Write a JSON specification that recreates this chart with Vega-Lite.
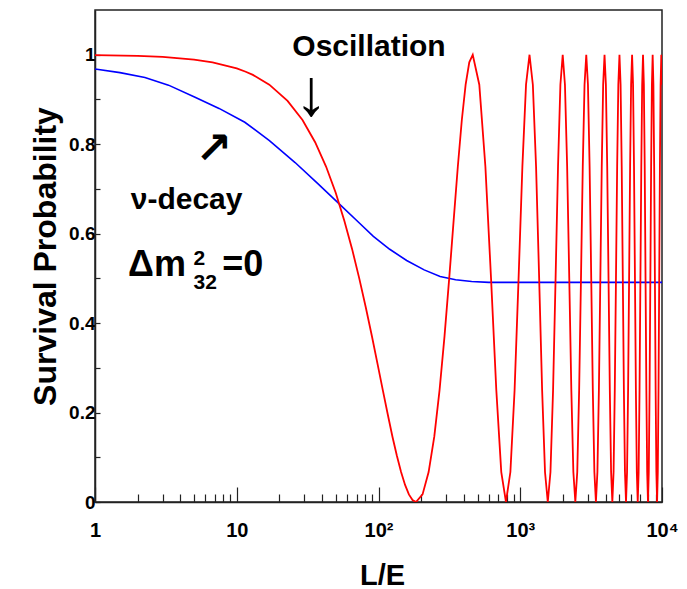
{
  "$schema": "https://vega.github.io/schema/vega-lite/v6.json",
  "autosize": {"type": "none"},
  "padding": {"left": 95, "top": 10, "right": 25, "bottom": 87},
  "width": 567,
  "height": 492,
  "background": "white",
  "config": {
    "font": "Liberation Sans",
    "view": {"stroke": "#222222", "strokeWidth": 1.5}
  },
  "datasets": {
    "osc": [
      {"x": 1, "p": 0.999}, {"x": 2, "p": 0.9973}, {"x": 3, "p": 0.995}, {"x": 5, "p": 0.9891},
      {"x": 6.75, "p": 0.983}, {"x": 10, "p": 0.9694}, {"x": 11.57, "p": 0.9619}, {"x": 13, "p": 0.9549},
      {"x": 16.97, "p": 0.933}, {"x": 22.83, "p": 0.8967}, {"x": 29.1, "p": 0.854}, {"x": 35.73, "p": 0.8044},
      {"x": 42.66, "p": 0.75}, {"x": 49.9, "p": 0.6913}, {"x": 57.4, "p": 0.629}, {"x": 65.16, "p": 0.5653},
      {"x": 73.15, "p": 0.5}, {"x": 81.38, "p": 0.4347}, {"x": 89.8, "p": 0.371}, {"x": 98.44, "p": 0.3087},
      {"x": 107.25, "p": 0.25}, {"x": 116.27, "p": 0.1956}, {"x": 125.44, "p": 0.146}, {"x": 134.79, "p": 0.1033},
      {"x": 144.3, "p": 0.067}, {"x": 153.98, "p": 0.0381}, {"x": 163.8, "p": 0.017}, {"x": 173.8, "p": 0.0043},
      {"x": 183.92, "p": 0}, {"x": 204.57, "p": 0.017},
      {"x": 225.74, "p": 0.067}, {"x": 247.45, "p": 0.146}, {"x": 269.6, "p": 0.25}, {"x": 292.29, "p": 0.371},
      {"x": 315.35, "p": 0.5}, {"x": 338.85, "p": 0.629}, {"x": 362.8, "p": 0.75}, {"x": 387.13, "p": 0.854},
      {"x": 411.8, "p": 0.933}, {"x": 436.9, "p": 0.983}, {"x": 462.3, "p": 1},
      {"x": 514.2, "p": 0.933}, {"x": 567.6, "p": 0.75}, {"x": 622.2, "p": 0.5}, {"x": 677.9, "p": 0.25},
      {"x": 734.8, "p": 0.067}, {"x": 792.9, "p": 0}, {"x": 852.0, "p": 0.067}, {"x": 912.1, "p": 0.25},
      {"x": 973.2, "p": 0.5}, {"x": 1035.3, "p": 0.75}, {"x": 1098.4, "p": 0.933}, {"x": 1162.5, "p": 1},
      {"x": 1227.2, "p": 0.933}, {"x": 1292.9, "p": 0.75}, {"x": 1359.4, "p": 0.5}, {"x": 1426.8, "p": 0.25},
      {"x": 1495.0, "p": 0.067}, {"x": 1564.0, "p": 0}, {"x": 1633.7, "p": 0.067}, {"x": 1704.1, "p": 0.25},
      {"x": 1775.2, "p": 0.5}, {"x": 1847.3, "p": 0.75}, {"x": 1919.6, "p": 0.933}, {"x": 1993.2, "p": 1},
      {"x": 2067.1, "p": 0.933}, {"x": 2141.8, "p": 0.75}, {"x": 2217.2, "p": 0.5}, {"x": 2293.0, "p": 0.25},
      {"x": 2369.6, "p": 0.067}, {"x": 2446.7, "p": 0}, {"x": 2524.5, "p": 0.067}, {"x": 2602.9, "p": 0.25},
      {"x": 2681.9, "p": 0.5}, {"x": 2761.0, "p": 0.75}, {"x": 2841.1, "p": 0.933}, {"x": 2922.2, "p": 1},
      {"x": 3003.4, "p": 0.933}, {"x": 3085.3, "p": 0.75}, {"x": 3167.6, "p": 0.5}, {"x": 3250.1, "p": 0.25},
      {"x": 3333.9, "p": 0.067}, {"x": 3417.9, "p": 0}, {"x": 3502.1, "p": 0.067}, {"x": 3587.6, "p": 0.25},
      {"x": 3672.9, "p": 0.5}, {"x": 3758.1, "p": 0.75}, {"x": 3844.9, "p": 0.933}, {"x": 3931.7, "p": 1},
      {"x": 4019.4, "p": 0.933}, {"x": 4106.7, "p": 0.75}, {"x": 4195.1, "p": 0.5}, {"x": 4284.3, "p": 0.25},
      {"x": 4373.8, "p": 0.067}, {"x": 4463.4, "p": 0}, {"x": 4553.7, "p": 0.067}, {"x": 4643.7, "p": 0.25},
      {"x": 4735.1, "p": 0.5}, {"x": 4826.7, "p": 0.75}, {"x": 4918.7, "p": 0.933}, {"x": 5011.1, "p": 1},
      {"x": 5104.0, "p": 0.933}, {"x": 5197.4, "p": 0.75}, {"x": 5290.7, "p": 0.5}, {"x": 5384.1, "p": 0.25},
      {"x": 5479.0, "p": 0.067}, {"x": 5573.8, "p": 0}, {"x": 5668.7, "p": 0.067}, {"x": 5764.6, "p": 0.25},
      {"x": 5860.4, "p": 0.5}, {"x": 5956.7, "p": 0.75}, {"x": 6053.5, "p": 0.933}, {"x": 6151.3, "p": 1},
      {"x": 6249.2, "p": 0.933}, {"x": 6346.0, "p": 0.75}, {"x": 6444.5, "p": 0.5}, {"x": 6543.6, "p": 0.25},
      {"x": 6642.0, "p": 0.067}, {"x": 6741.7, "p": 0}, {"x": 6842.7, "p": 0.067}, {"x": 6942.4, "p": 0.25},
      {"x": 7043.4, "p": 0.5}, {"x": 7143.7, "p": 0.75}, {"x": 7245.3, "p": 0.933}, {"x": 7345.6, "p": 1},
      {"x": 7448.5, "p": 0.933}, {"x": 7551.3, "p": 0.75}, {"x": 7653.0, "p": 0.5}, {"x": 7756.5, "p": 0.25},
      {"x": 7860.0, "p": 0.067}, {"x": 7964.1, "p": 0}, {"x": 8067.6, "p": 0.067}, {"x": 8172.0, "p": 0.25},
      {"x": 8276.5, "p": 0.5}, {"x": 8381.0, "p": 0.75}, {"x": 8486.4, "p": 0.933}, {"x": 8592.5, "p": 1},
      {"x": 8697.8, "p": 0.933}, {"x": 8805.6, "p": 0.75}, {"x": 8910.9, "p": 0.5}, {"x": 9017.9, "p": 0.25},
      {"x": 9124.9, "p": 0.067}, {"x": 9232.6, "p": 0}, {"x": 9340.4, "p": 0.067}, {"x": 9449.0, "p": 0.25},
      {"x": 9557.6, "p": 0.5}, {"x": 9666.2, "p": 0.75}, {"x": 9775.6, "p": 0.933}, {"x": 9885.0, "p": 1},
      {"x": 9994.3, "p": 0.933}
    ],
    "decay": [
      {"x": 1, "p": 0.968}, {"x": 1.5, "p": 0.96}, {"x": 2.25, "p": 0.949}, {"x": 3.3, "p": 0.932},
      {"x": 5.08, "p": 0.905}, {"x": 7.5, "p": 0.88}, {"x": 11.4, "p": 0.849}, {"x": 17, "p": 0.808},
      {"x": 25.8, "p": 0.759}, {"x": 37, "p": 0.713}, {"x": 53.5, "p": 0.665}, {"x": 72, "p": 0.626},
      {"x": 92, "p": 0.594}, {"x": 120, "p": 0.565}, {"x": 158, "p": 0.54}, {"x": 210, "p": 0.519},
      {"x": 272, "p": 0.504}, {"x": 350, "p": 0.497}, {"x": 454, "p": 0.493}, {"x": 600, "p": 0.491},
      {"x": 10000, "p": 0.491}
    ]
  },
  "layer": [
    {
      "data": {"name": "decay"},
      "mark": {"type": "line", "color": "#0000ff", "strokeWidth": 1.6, "clip": true},
      "encoding": {
        "x": {
          "field": "x", "type": "quantitative",
          "scale": {"type": "log", "domain": [1, 10000], "nice": false},
          "axis": {
            "values": [1,2,3,4,5,6,7,8,9,10,20,30,40,50,60,70,80,90,100,200,300,400,500,600,700,800,900,1000,2000,3000,4000,5000,6000,7000,8000,9000,10000],
            "labelExpr": "datum.value == 1 ? '1' : datum.value == 10 ? '10' : datum.value == 100 ? '10²' : datum.value == 1000 ? '10³' : datum.value == 10000 ? '10⁴' : ''",
            "tickSize": {"condition": {"test": "indexof([1,10,100,1000,10000], datum.value) >= 0", "value": -15}, "value": -8},
            "tickColor": "#222222",
            "tickWidth": 1.2,
            "domainColor": "#222222",
            "domainWidth": 1.5,
            "grid": false,
            "labelFont": "Liberation Sans",
            "labelFontWeight": "bold",
            "labelFontSize": 20,
            "labelColor": "#000000",
            "labelBaseline": "top",
            "labelPadding": 33,
            "labelOverlap": false,
            "labelFlush": false,
            "labelBound": false,
            "title": "L/E",
            "titleFont": "Liberation Sans",
            "titleFontWeight": "bold",
            "titleFontSize": 29,
            "titleColor": "#000000",
            "titleX": 287,
            "titleY": 82,
            "titleBaseline": "alphabetic",
            "titleAlign": "center"
          }
        },
        "y": {
          "field": "p", "type": "quantitative",
          "scale": {"domain": [0, 1.1], "nice": false, "zero": false},
          "axis": {
            "values": [0,0.05,0.1,0.15,0.2,0.25,0.3,0.35,0.4,0.45,0.5,0.55,0.6,0.65,0.7,0.75,0.8,0.85,0.9,0.95,1,1.05],
            "labelExpr": "abs(datum.value*5 - round(datum.value*5)) < 0.001 ? format(datum.value, '~g') : ''",
            "tickSize": {"condition": {"test": "abs(datum.value*10 - round(datum.value*10)) < 0.001", "value": -5}, "value": -3},
            "tickColor": "#222222",
            "tickWidth": 1.2,
            "domainColor": "#222222",
            "domainWidth": 1.5,
            "grid": false,
            "labelFont": "Liberation Sans",
            "labelFontWeight": "bold",
            "labelFontSize": 19,
            "labelColor": "#000000",
            "labelPadding": 5,
            "labelOverlap": false,
            "labelFlush": false,
            "labelBound": false,
            "title": "Survival Probability",
            "titleFont": "Liberation Sans",
            "titleFontWeight": "bold",
            "titleFontSize": 32,
            "titleColor": "#000000",
            "titleX": -50,
            "titleY": 246,
            "titleAngle": -90,
            "titleAlign": "center",
            "titleBaseline": "middle"
          }
        }
      }
    },
    {
      "data": {"name": "osc"},
      "mark": {"type": "line", "color": "#ff0000", "strokeWidth": 1.8, "clip": true},
      "encoding": {
        "x": {"field": "x", "type": "quantitative"},
        "y": {"field": "p", "type": "quantitative"}
      }
    },
    {
      "data": {"values": [{"x": 85.7, "p": 0.998, "t": "Oscillation"}, {"x": 4.43, "p": 0.656, "t": "ν-decay"}]},
      "mark": {"type": "text", "font": "Liberation Sans", "fontWeight": "bold", "fontSize": 30, "align": "center", "baseline": "alphabetic", "color": "#000000"},
      "encoding": {
        "x": {"field": "x", "type": "quantitative"},
        "y": {"field": "p", "type": "quantitative"},
        "text": {"field": "t"}
      }
    },
    {
      "data": {"values": [{"x": 33.6, "p": 0.91, "t": "↓"}]},
      "mark": {"type": "text", "font": "Liberation Sans", "fontWeight": "normal", "fontSize": 66, "align": "center", "baseline": "middle", "color": "#000000"},
      "encoding": {
        "x": {"field": "x", "type": "quantitative"},
        "y": {"field": "p", "type": "quantitative"},
        "text": {"field": "t"}
      }
    },
    {
      "data": {"values": [{"x": 6.91, "p": 0.786, "t": "↗"}]},
      "mark": {"type": "text", "font": "DejaVu Sans", "fontWeight": "bold", "fontSize": 44, "align": "center", "baseline": "middle", "color": "#000000"},
      "encoding": {
        "x": {"field": "x", "type": "quantitative"},
        "y": {"field": "p", "type": "quantitative"},
        "text": {"field": "t"}
      }
    },
    {
      "data": {"values": [{"x": 1.71, "p": 0.506, "t": "Δm"}, {"x": 7.9, "p": 0.506, "t": "=0"}]},
      "mark": {"type": "text", "font": "Liberation Sans", "fontWeight": "bold", "fontSize": 36, "align": "left", "baseline": "alphabetic", "color": "#000000"},
      "encoding": {
        "x": {"field": "x", "type": "quantitative"},
        "y": {"field": "p", "type": "quantitative"},
        "text": {"field": "t"}
      }
    },
    {
      "data": {"values": [{"x": 4.95, "p": 0.529, "t": "2"}, {"x": 4.95, "p": 0.477, "t": "32"}]},
      "mark": {"type": "text", "font": "Liberation Sans", "fontWeight": "bold", "fontSize": 21, "align": "left", "baseline": "alphabetic", "color": "#000000"},
      "encoding": {
        "x": {"field": "x", "type": "quantitative"},
        "y": {"field": "p", "type": "quantitative"},
        "text": {"field": "t"}
      }
    }
  ]
}
